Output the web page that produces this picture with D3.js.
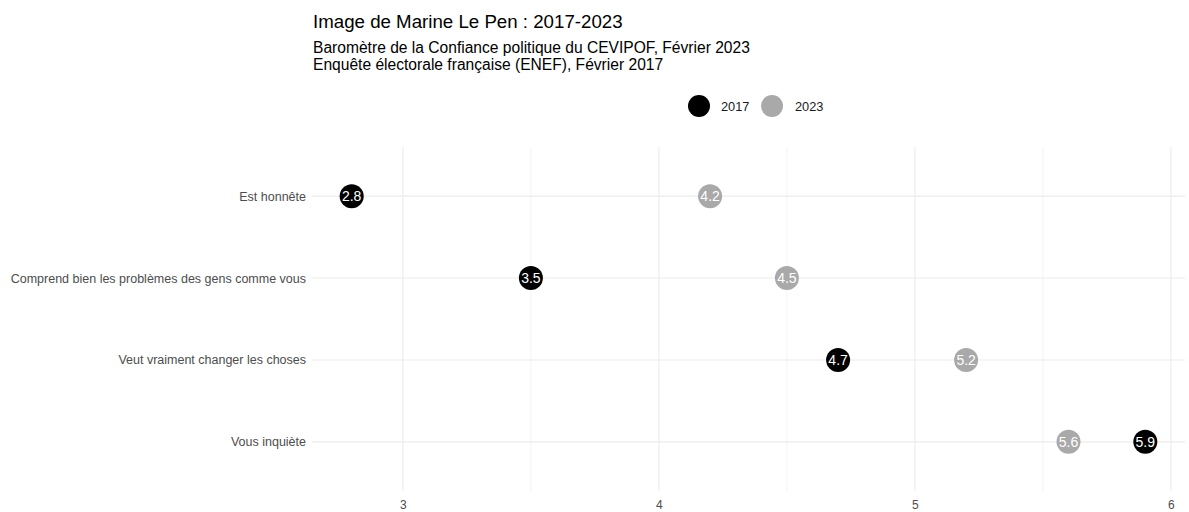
<!DOCTYPE html>
<html>
<head>
<meta charset="utf-8">
<script src="https://cdn.jsdelivr.net/npm/d3@7"></script>
<style>
  html, body { margin: 0; padding: 0; background: #fff; }
  svg { display: block; font-family: "Liberation Sans", Arial, sans-serif; }
</style>
</head>
<body>
<svg id="chart" width="1189" height="512"></svg>
<script>
// Items rated, top to bottom
const items = [
  "Est honnête",
  "Comprend bien les problèmes des gens comme vous",
  "Veut vraiment changer les choses",
  "Vous inquiète"
];
// Mean scores per year (0-10 scale)
const years = ["2017", "2023"];
const scores2017 = [2.8, 3.5, 4.7, 5.9];
const scores2023 = [4.2, 4.5, 5.2, 5.6];
const xTicks = [3, 4, 5, 6];

const title = "Image de Marine Le Pen : 2017-2023";
const subtitleLines = [
  "Baromètre de la Confiance politique du CEVIPOF, Février 2023",
  "Enquête électorale française (ENEF), Février 2017"
];

const colors = { "2017": "#000000", "2023": "#a9a9a9" };

const svg = d3.select("#chart");

const panel = { left: 312, right: 1185, top: 147, bottom: 491 };

// x domain: data range padded by 5% on each side
const all = scores2017.concat(scores2023);
const lo = d3.min(all), hi = d3.max(all);
const pad = (hi - lo) * 0.05;
const x = d3.scaleLinear().domain([lo - pad, hi + pad]).range([panel.left, panel.right]);

const y = d3.scalePoint().domain(items).range([panel.top, panel.bottom]).padding(0.6);

// Grid
const grid = svg.append("g");
const minorTicks = d3.range(Math.ceil((lo - pad) * 2) / 2, hi + pad, 0.5).filter(v => !xTicks.includes(v));
grid.selectAll("line.minor").data(minorTicks).join("line")
  .attr("x1", d => x(d)).attr("x2", d => x(d))
  .attr("y1", panel.top).attr("y2", panel.bottom)
  .attr("stroke", "#ebebeb").attr("stroke-width", 0.6);
grid.selectAll("line.major").data(xTicks).join("line")
  .attr("x1", d => x(d)).attr("x2", d => x(d))
  .attr("y1", panel.top).attr("y2", panel.bottom)
  .attr("stroke", "#ebebeb").attr("stroke-width", 1.1);
grid.selectAll("line.h").data(items).join("line")
  .attr("x1", panel.left).attr("x2", panel.right)
  .attr("y1", d => y(d)).attr("y2", d => y(d))
  .attr("stroke", "#ebebeb").attr("stroke-width", 1.1);

// Axes (text only)
const xAxis = svg.append("g").attr("transform", `translate(0,${panel.bottom})`)
  .call(d3.axisBottom(x).tickValues(xTicks).tickFormat(d3.format("d")).tickSize(0).tickPadding(9));
xAxis.select(".domain").remove();
xAxis.selectAll("text").attr("fill", "#4d4d4d").style("font-size", "12px")
  .style("font-family", "Liberation Sans, Arial, sans-serif");

const yAxis = svg.append("g").attr("transform", `translate(${panel.left - 6},0)`)
  .call(d3.axisLeft(y).tickSize(0).tickPadding(0));
yAxis.select(".domain").remove();
yAxis.selectAll("text").attr("fill", "#4d4d4d").style("font-size", "12.5px")
  .style("font-family", "Liberation Sans, Arial, sans-serif");

// Points with value labels
const series = [
  { year: "2017", values: scores2017 },
  { year: "2023", values: scores2023 }
];
const points = series.flatMap(s => s.values.map((v, i) => ({ year: s.year, item: items[i], value: v })));

const pts = svg.append("g").selectAll("g").data(points).join("g")
  .attr("transform", d => `translate(${x(d.value)},${y(d.item)})`);
pts.append("circle").attr("r", 12).attr("fill", d => colors[d.year]);
pts.append("text")
  .attr("text-anchor", "middle").attr("dy", "0.36em")
  .attr("fill", "#ffffff").style("font-size", "14px")
  .text(d => d3.format(".1f")(d.value));

// Legend
const legend = svg.append("g");
const legendItems = [
  { year: years[0], cx: 699, tx: 721 },
  { year: years[1], cx: 772, tx: 795 }
];
legend.selectAll("circle").data(legendItems).join("circle")
  .attr("cx", d => d.cx).attr("cy", 106).attr("r", 11)
  .attr("fill", d => colors[d.year]);
legend.selectAll("text").data(legendItems).join("text")
  .attr("x", d => d.tx).attr("y", 106).attr("dy", "0.36em")
  .attr("fill", "#1a1a1a").style("font-size", "12.8px")
  .text(d => d.year);

// Title and subtitle
svg.append("text").attr("x", 313).attr("y", 28)
  .attr("fill", "#000").style("font-size", "18.7px").text(title);
svg.append("g").selectAll("text").data(subtitleLines).join("text")
  .attr("x", 313).attr("y", (d, i) => 53 + i * 16.5)
  .attr("fill", "#000").style("font-size", "15.6px").text(d => d);
</script>
</body>
</html>
